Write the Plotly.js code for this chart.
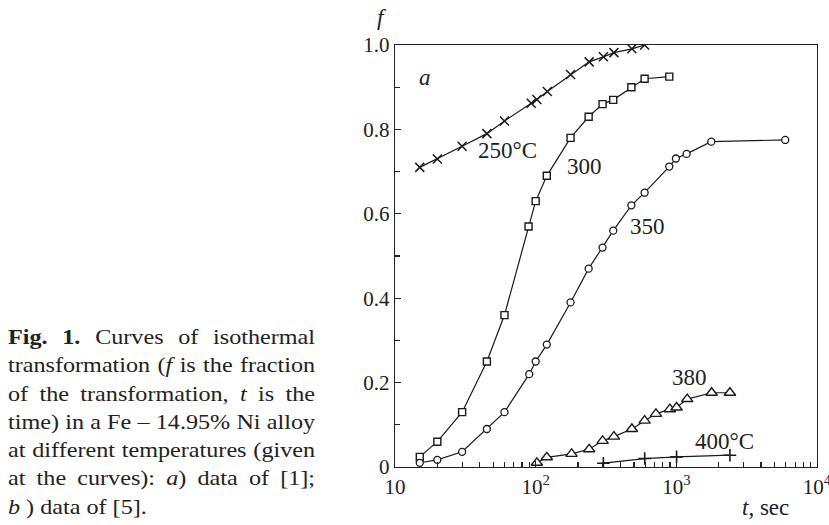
<!DOCTYPE html>
<html>
<head>
<meta charset="utf-8">
<script src="https://cdn.plot.ly/plotly-3.0.1.min.js"></script>
<style>
  html, body { margin: 0; padding: 0; background: #fff; }
  #wrap { position: relative; width: 829px; height: 525px; }
  #chart { position: absolute; left: 0; top: 0; width: 829px; height: 525px; }
  #caption { position: absolute; left: 8px; top: 323px; width: 267px;
    transform: scaleX(1.15); transform-origin: 0 0;
    font-family: "Liberation Serif", "Times New Roman", serif; font-size: 21px;
    line-height: 28.3px; color: #222; }
  #caption .j { text-align: justify; text-align-last: justify; white-space: nowrap; }
  #caption .l { text-align: left; white-space: nowrap; }
</style>
</head>
<body>
<div id="wrap">
  <div id="chart"></div>
  <div id="caption">
    <div class="j"><b>Fig. 1.</b> Curves of isothermal</div>
    <div class="j">transformation (<i>f</i> is the fraction</div>
    <div class="j">of the transformation, <i>t</i> is the</div>
    <div class="j">time) in a Fe – 14.95% Ni alloy</div>
    <div class="j">at different temperatures (given</div>
    <div class="j">at the curves): <i>a</i>) data of [1];</div>
    <div class="l"><i>b</i> ) data of [5].</div>
  </div>
</div>
<script>
// Data (t in sec, f = transformed fraction)
const t250 = [15, 20, 30, 45, 60, 93, 102, 121, 177, 240, 303, 360, 483, 595];
const f250 = [0.71, 0.73, 0.76, 0.79, 0.82, 0.862, 0.871, 0.89, 0.93, 0.96, 0.972, 0.982, 0.991, 1.0];

const t300 = [15, 20, 30, 45, 60, 89, 100, 120, 177, 238, 299, 356, 479, 595, 891];
const f300 = [0.024, 0.06, 0.13, 0.25, 0.36, 0.57, 0.63, 0.69, 0.78, 0.83, 0.86, 0.87, 0.90, 0.92, 0.925];

const t350 = [15, 20, 30, 45, 60, 90, 100, 120, 177, 238, 299, 356, 479, 595, 891, 993, 1183, 1772, 5943];
const f350 = [0.010, 0.017, 0.036, 0.09, 0.13, 0.22, 0.25, 0.29, 0.39, 0.47, 0.52, 0.56, 0.62, 0.65, 0.712, 0.731, 0.742, 0.771, 0.775];

const t380 = [102, 120, 180, 240, 299, 360, 483, 595, 716, 900, 1004, 1195, 1782, 2404];
const f380 = [0.010, 0.023, 0.031, 0.042, 0.062, 0.072, 0.09, 0.11, 0.126, 0.137, 0.141, 0.161, 0.176, 0.176];

const t400 = [303, 596, 1004, 2404];
const f400 = [0.009, 0.020, 0.024, 0.028];

const xTickVals = [10, 100, 1000, 10000];
const xTickText = ["10", "10<sup>2</sup>", "10<sup>3</sup>", "10<sup>4</sup>"];
const xMinorVals = [20, 30, 40, 50, 60, 70, 80, 90, 200, 300, 400, 500, 600, 700, 800, 900,
                    2000, 3000, 4000, 5000, 6000, 7000, 8000, 9000];
const yTickVals = [0, 0.2, 0.4, 0.6, 0.8, 1.0];
const yTickText = ["0", "0.2", "0.4", "0.6", "0.8", "1.0"];
const yMinorVals = [0.1, 0.3, 0.5, 0.7, 0.9];

const curveLabels = [
  {text: "250°C", x: 0.2666, y: 0.7495},
  {text: "300",   x: 0.448,  y: 0.7116},
  {text: "350",   x: 0.598,  y: 0.569},
  {text: "380",   x: 0.697,  y: 0.211},
  {text: "400°C", x: 0.780,  y: 0.060}
];

const serif = '"Liberation Serif", "Times New Roman", serif';
const ink = '#1a1a1a';
const lineStyle = {color: ink, width: 1.2};

function trace(x, y, marker) {
  return {x: x, y: y, type: 'scatter', mode: 'lines+markers',
          line: lineStyle, marker: marker, showlegend: false, hoverinfo: 'skip'};
}

const data = [
  trace(t250, f250, {symbol: 'x-thin-open', size: 9, color: ink, line: {color: ink, width: 1.5}}),
  trace(t300, f300, {symbol: 'square', size: 7, color: 'white', line: {color: ink, width: 1.4}}),
  trace(t350, f350, {symbol: 'circle', size: 7, color: 'white', line: {color: ink, width: 1.3}}),
  trace(t380, f380, {symbol: 'triangle-up', size: 10, color: 'white', line: {color: ink, width: 1.4}}),
  trace(t400, f400, {symbol: 'cross-thin-open', size: 9, color: ink, line: {color: ink, width: 1.6}}),
  // invisible helper trace so the minor-tick overlay axes are drawn
  {x: [10, 10000], y: [0, 1], xaxis: 'x2', yaxis: 'y2', type: 'scatter', mode: 'markers',
   marker: {opacity: 0}, showlegend: false, hoverinfo: 'skip'}
];

const annotations = curveLabels.map(l => ({
  text: l.text, x: l.x, y: l.y, xref: 'paper', yref: 'paper',
  xanchor: 'center', yanchor: 'middle', showarrow: false,
  font: {family: serif, size: 23, color: '#222'}
}));
annotations.push({text: '<i>f</i>', x: -0.031, y: 1.064, xref: 'paper', yref: 'paper',
  xanchor: 'center', yanchor: 'middle', showarrow: false, font: {family: serif, size: 23, color: '#222'}});
annotations.push({text: '<i>a</i>', x: 0.071, y: 0.922, xref: 'paper', yref: 'paper',
  xanchor: 'center', yanchor: 'middle', showarrow: false, font: {family: serif, size: 23, color: '#222'}});
annotations.push({text: '<i>t</i>, sec', x: 0.877, y: -0.097, xref: 'paper', yref: 'paper',
  xanchor: 'center', yanchor: 'middle', showarrow: false, font: {family: serif, size: 23, color: '#222'}});

const layout = {
  width: 829, height: 525,
  margin: {l: 395, r: 12, t: 45, b: 58, pad: 0},
  paper_bgcolor: 'white', plot_bgcolor: 'white',
  font: {family: serif, size: 21, color: '#222'},
  xaxis: {
    type: 'log', range: [1, 4],
    tickmode: 'array', tickvals: xTickVals, ticktext: xTickText, ticklabeloverflow: 'allow',
    ticks: 'inside', ticklen: 6, tickwidth: 1.2, tickcolor: '#222',
    showline: true, linecolor: '#222', linewidth: 1.4, mirror: true,
    showgrid: false, zeroline: false,
    tickfont: {family: serif, size: 21, color: '#222'}
  },
  yaxis: {
    range: [0, 1],
    tickmode: 'array', tickvals: yTickVals, ticktext: yTickText, ticklabeloverflow: 'allow',
    ticks: 'inside', ticklen: 6, tickwidth: 1.2, tickcolor: '#222',
    showline: true, linecolor: '#222', linewidth: 1.4, mirror: true,
    showgrid: false, zeroline: false,
    tickfont: {family: serif, size: 21, color: '#222'}
  },
  xaxis2: {
    type: 'log', range: [1, 4], overlaying: 'x', anchor: 'y2', side: 'bottom',
    tickmode: 'array', tickvals: xMinorVals,
    ticks: 'inside', ticklen: 5, tickwidth: 1.2, tickcolor: '#222',
    showticklabels: false, showline: false, showgrid: false, zeroline: false
  },
  yaxis2: {
    range: [0, 1], overlaying: 'y', anchor: 'x2', side: 'left',
    tickmode: 'array', tickvals: yMinorVals,
    ticks: 'inside', ticklen: 5, tickwidth: 1.2, tickcolor: '#222',
    showticklabels: false, showline: false, showgrid: false, zeroline: false
  },
  annotations: annotations
};

Plotly.newPlot('chart', data, layout, {staticPlot: true, displayModeBar: false});
</script>
</body>
</html>
